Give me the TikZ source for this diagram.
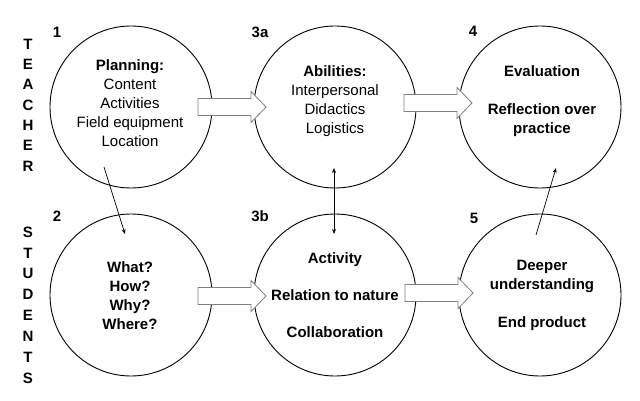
\documentclass[tikz,border=0pt]{standalone}
\usepackage{fontspec}
\setmainfont{Liberation Sans}
\usetikzlibrary{arrows.meta,calc}
\tikzset{pics/blockarr/.style={code={
  \draw[blk] (0,-8.5) -- (53,-8.5) -- (53,-15.5) -- (68,0) -- (53,15.5) -- (53,8.5) -- (0,8.5) -- cycle;}}}
\begin{document}
\begin{tikzpicture}[x=1pt,y=-1pt,
  circ/.style={draw=black, line width=0.9pt, circle, minimum size=162pt, inner sep=0pt},
  txt/.style={align=center, font=\fontsize{15}{19}\selectfont, inner sep=0pt},
  btxt/.style={align=center, font=\fontsize{15}{19}\selectfont\bfseries, inner sep=0pt},
  num/.style={font=\fontsize{15}{18}\selectfont\bfseries, inner sep=0pt},
  vert/.style={align=center, inner sep=0pt},
  thinarr/.style={line width=0.7pt, -{Stealth[length=5pt,width=4pt]}},
  thinarrb/.style={line width=0.7pt, {Stealth[length=5pt,width=4pt]}-{Stealth[length=5pt,width=4pt]}},
  blk/.style={draw=black!50, fill=white, line width=0.8pt, line join=miter}
]
\useasboundingbox (0,0) rectangle (640,401);
% circles
\node[circ] (c1) at (131,107) {};
\node[circ] (c3a) at (335,107) {};
\node[circ] (c4) at (540,107) {};
\node[circ] (c2) at (131,295) {};
\node[circ] (c3b) at (335,295) {};
\node[circ] (c5) at (540,295) {};
% side labels
\node[vert, font=\fontsize{15}{20.3}\selectfont\bfseries] (teacher) at (28,105) {T\\E\\A\\C\\H\\E\\R};
\node[vert, font=\fontsize{15}{20.85}\selectfont\bfseries] (students) at (28,305) {S\\T\\U\\D\\E\\N\\T\\S};
% numbers
\node[num] (n1) at (57,32) {1};
\node[num] (n3a) at (260,32) {3a};
\node[num] (n4) at (473,31) {4};
\node[num] (n2) at (57,216) {2};
\node[num] (n3b) at (260,216) {3b};
\node[num] (n5) at (474,218) {5};
% texts
\node[txt] (t1) at (130,103) {\textbf{Planning:}\\Content\\Activities\\Field equipment\\Location};
\node[txt] (t3a) at (335,101) {\textbf{Abilities:}\\Interpersonal\\Didactics\\Logistics};
\node[btxt] (t4) at (542,101.5) {Evaluation\\[19pt]Reflection over\\practice};
\node[btxt] (t2) at (130,295.5) {What?\\How?\\Why?\\Where?};
\node[btxt] (t3b) at (335,295.5) {Activity\\[18pt]Relation to nature\\[18pt]Collaboration};
\node[btxt] (t5) at (542,295.5) {Deeper\\understanding\\[19pt]End product};
% block arrows
\pic at ($(c1.center)+(67,0)$) {blockarr};
\pic at ($(c3a.center)+(69,-4)$) {blockarr};
\pic at ($(c2.center)+(67,1)$) {blockarr};
\pic at ($(c3b.center)+(70,-2)$) {blockarr};
% thin arrows
\coordinate (a1) at ($(c1.center)+(-27,60)$);
\coordinate (a2) at ($(c2.center)+(-6,-61)$);
\draw[thinarr] (a1) -- (a2);
\coordinate (b1) at ($(c3b.center)+(-1,-61)$);
\coordinate (b2) at ($(c3a.center)+(-1,61)$);
\draw[thinarrb] (b1) -- (b2);
\coordinate (d1) at ($(c5.center)+(-4,-60)$);
\coordinate (d2) at ($(c4.center)+(16,61)$);
\draw[thinarr] (d1) -- (d2);
\end{tikzpicture}
\end{document}
